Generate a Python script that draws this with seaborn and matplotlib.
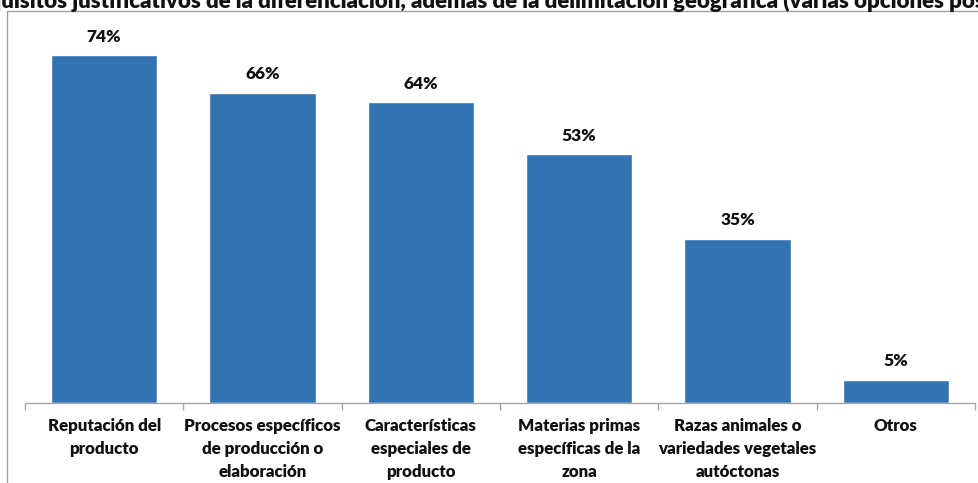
import matplotlib
matplotlib.use("Agg")
import matplotlib.pyplot as plt
import seaborn as sns
import pandas as pd
from matplotlib.patches import Rectangle
from matplotlib.ticker import FixedLocator

categories = [
    "Reputación del\nproducto",
    "Procesos específicos\nde producción o\nelaboración",
    "Características\nespeciales de\nproducto",
    "Materias primas\nespecíficas de la\nzona",
    "Razas animales o\nvariedades vegetales\nautóctonas",
    "Otros",
]
values = [74, 66, 64, 53, 35, 5]
title = ("Requisitos justificativos de la diferenciación, además de la "
         "delimitación geográfica (varias opciones posibles)")

sns.set_theme(style="white")
plt.rcParams["font.family"] = ["Lato", "DejaVu Sans"]

W, H = 979, 483
fig = plt.figure(figsize=(W / 100, H / 100), dpi=100)
ax = fig.add_axes([25 / W, 80 / H, 950 / W, 376 / H])

df = pd.DataFrame({"cat": categories, "val": values})
sns.barplot(data=df, x="cat", y="val", color="#3274B1", saturation=1,
            width=0.67, ax=ax)

ax.set_xlim(-0.5, len(categories) - 0.5)
ax.set_ylim(0, 80)
ax.set_xlabel("")
ax.set_ylabel("")
ax.set_yticks([])
for s in ["top", "right", "left"]:
    ax.spines[s].set_visible(False)
ax.spines["bottom"].set_color("#A6A6A6")
ax.spines["bottom"].set_linewidth(1.0)

ax.set_xticks(range(len(categories)))
ax.set_xticklabels(categories, fontsize=12.2, fontweight="heavy",
                   color="#111111", linespacing=1.52)
ax.tick_params(axis="x", which="major", length=0, pad=11)
ax.xaxis.set_minor_locator(FixedLocator([i - 0.5 for i in range(len(categories) + 1)]))
ax.tick_params(axis="x", which="minor", length=5, color="#A6A6A6", width=1,
               bottom=True)

for i, v in enumerate(values):
    ax.text(i, v + 2.2, f"{v}%", ha="center", va="bottom", fontsize=12.5,
            fontweight="heavy", color="#111111")

# outer chart frame
fig.patches.append(Rectangle((7 / W, -0.05), 1.1, 1 - 11 / H + 0.05,
                             transform=fig.transFigure, fill=False,
                             edgecolor="#A0A0A0", linewidth=1.0))

fig.text(500 / W, 1 - 8 / H, title, ha="center", va="baseline",
         fontsize=16, fontweight="heavy", color="#111111")

fig.savefig("out.png", dpi=100)
